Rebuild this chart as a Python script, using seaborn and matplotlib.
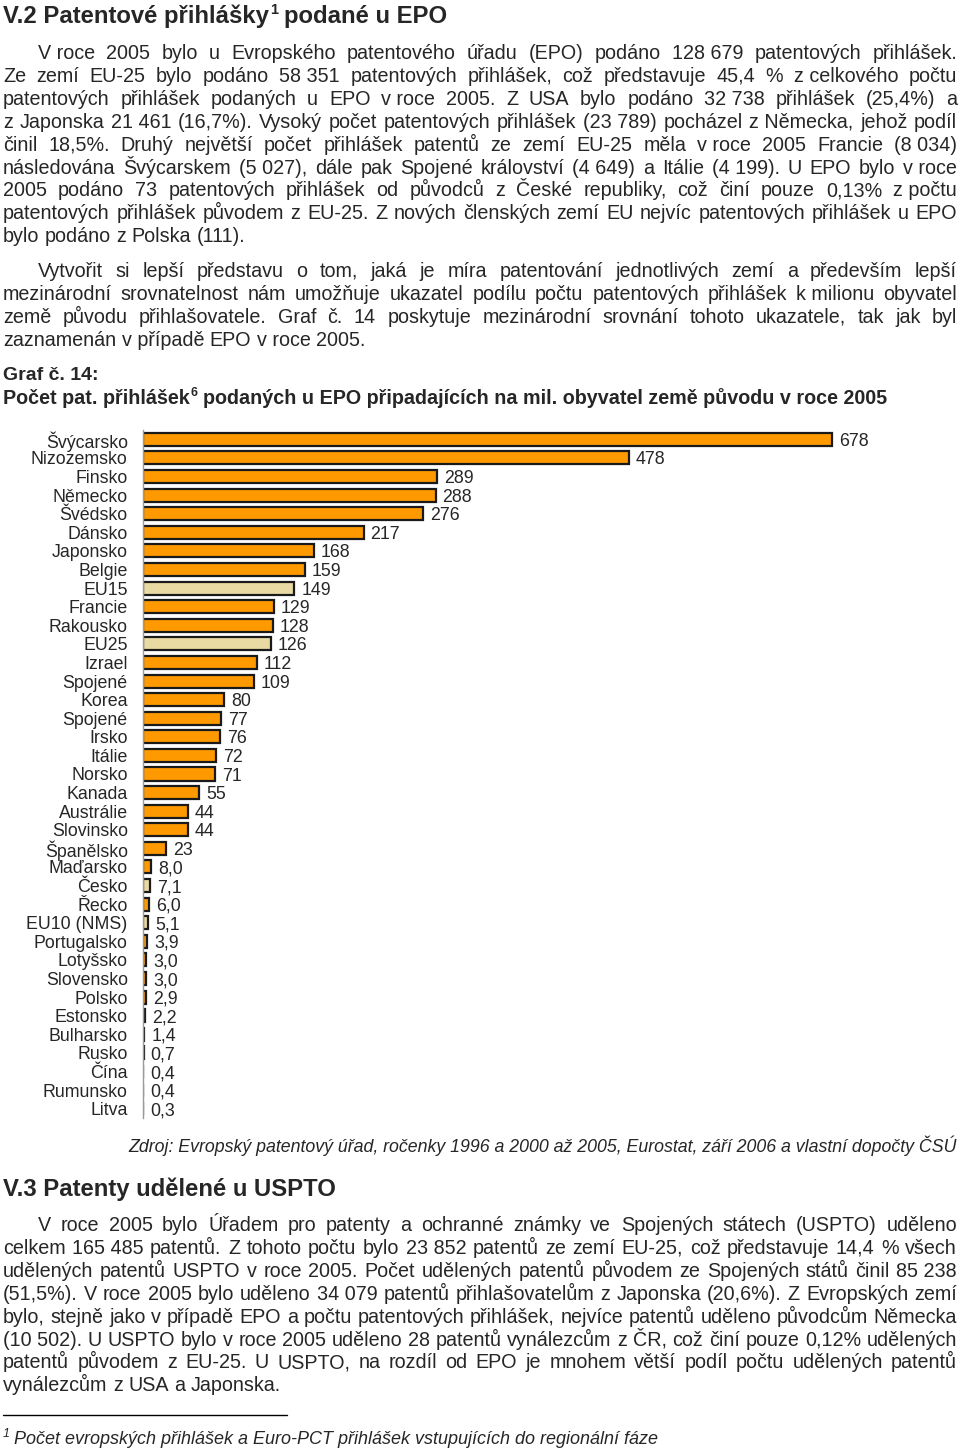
import matplotlib.pyplot as plt
from matplotlib.lines import Line2D
import seaborn as sns
import pandas as pd

W, H = 960, 1448
NB = '\u00a0'

# chart data
countries = ['Švýcarsko', 'Nizozemsko', 'Finsko', 'Německo', 'Švédsko', 'Dánsko',
             'Japonsko', 'Belgie', 'EU15', 'Francie', 'Rakousko', 'EU25', 'Izrael',
             'Spojené státy', 'Korea', 'Spojené království', 'Irsko', 'Itálie',
             'Norsko', 'Kanada', 'Austrálie', 'Slovinsko', 'Španělsko', 'Maďarsko',
             'Česko', 'Řecko', 'EU10 (NMS)', 'Portugalsko', 'Lotyšsko', 'Slovensko',
             'Polsko', 'Estonsko', 'Bulharsko', 'Rusko', 'Čína', 'Rumunsko', 'Litva']
tick_names = [c.split(' ')[0] if c.startswith('Spojené') else c for c in countries]
values = [678, 478, 289, 288, 276, 217, 168, 159, 149, 129, 128, 126, 112, 109,
          80, 77, 76, 72, 71, 55, 44, 44, 23, 8.0, 7.1, 6.0, 5.1, 3.9, 3.0, 3.0,
          2.9, 2.2, 1.4, 0.7, 0.4, 0.4, 0.3]
value_labels = ['678', '478', '289', '288', '276', '217', '168', '159', '149', '129',
                '128', '126', '112', '109', '80', '77', '76', '72', '71', '55', '44',
                '44', '23', '8,0', '7,1', '6,0', '5,1', '3,9', '3,0', '3,0', '2,9',
                '2,2', '1,4', '0,7', '0,4', '0,4', '0,3']
highlight = ['EU15', 'EU25', 'Česko', 'EU10 (NMS)']

# page text
para1 = [
    'V' + NB + 'roce 2005 bylo u Evropského patentového úřadu (EPO) podáno 128' + NB + '679 patentových přihlášek.',
    'Ze zemí EU-25 bylo podáno 58' + NB + '351 patentových přihlášek, což představuje 45,4 % z' + NB + 'celkového počtu',
    'patentových přihlášek podaných u EPO v' + NB + 'roce 2005. Z USA bylo podáno 32' + NB + '738 přihlášek (25,4%) a',
    'z Japonska 21' + NB + '461 (16,7%). Vysoký počet patentových přihlášek (23' + NB + '789) pocházel z' + NB + 'Německa, jehož podíl',
    'činil 18,5%. Druhý největší počet přihlášek patentů ze zemí EU-25 měla v' + NB + 'roce 2005 Francie (8' + NB + '034)',
    'následována Švýcarskem (5' + NB + '027), dále pak Spojené království (4' + NB + '649) a Itálie (4' + NB + '199). U EPO bylo v' + NB + 'roce',
    '2005 podáno 73 patentových přihlášek od původců z České republiky, což činí pouze 0,13% z' + NB + 'počtu',
    'patentových přihlášek původem z EU-25. Z nových členských zemí EU nejvíc patentových přihlášek u EPO',
    'bylo podáno z Polska (111).',
]
para2 = [
    'Vytvořit si lepší představu o tom, jaká je míra patentování jednotlivých zemí a především lepší',
    'mezinárodní srovnatelnost nám umožňuje ukazatel podílu počtu patentových přihlášek k' + NB + 'milionu obyvatel',
    'země původu přihlašovatele. Graf č. 14 poskytuje mezinárodní srovnání tohoto ukazatele, tak jak byl',
    'zaznamenán v' + NB + 'případě EPO v' + NB + 'roce 2005.',
]
para3 = [
    'V roce 2005 bylo Úřadem pro patenty a ochranné známky ve Spojených státech (USPTO) uděleno',
    'celkem 165' + NB + '485 patentů. Z tohoto počtu bylo 23' + NB + '852 patentů ze zemí EU-25, což představuje 14,4 % všech',
    'udělených patentů USPTO v roce 2005. Počet udělených patentů původem ze Spojených států činil 85' + NB + '238',
    '(51,5%). V roce 2005 bylo uděleno 34' + NB + '079 patentů přihlašovatelům z Japonska (20,6%). Z Evropských zemí',
    'bylo, stejně jako v případě EPO a počtu patentových přihlášek, nejvíce patentů uděleno původcům Německa',
    '(10' + NB + '502). U USPTO bylo v roce 2005 uděleno 28 patentů vynálezcům z ČR, což činí pouze 0,12% udělených',
    'patentů původem z EU-25. U USPTO, na rozdíl od EPO je mnohem větší podíl počtu udělených patentů',
    'vynálezcům z USA a Japonska.',
]

sns.set_theme(style='white')
plt.rcParams['font.family'] = ['Liberation Sans', 'DejaVu Sans']

fig = plt.figure(figsize=(W / 100, H / 100), dpi=100)
renderer = fig.canvas.get_renderer()


def fx(x):
    return x / W


def fy(y):
    return 1 - y / H


def width(t):
    return t.get_window_extent(renderer).width


def line(y, s, x0=3, x1=957, justify=True, size=14.2, **kw):
    words = s.split(' ')
    ts = [fig.text(fx(x0), fy(y), w, fontsize=size, va='baseline', **kw) for w in words]
    ws = [width(t) for t in ts]
    if justify and len(ts) > 1:
        gap = (x1 - x0 - sum(ws)) / (len(ts) - 1)
    else:
        gap = size * 100 / 72 * 0.278
    x = x0
    for t, w in zip(ts, ws):
        t.set_x(fx(x))
        x += w + gap


def runs(x, y, parts):
    # parts: (text, fontsize, dy, gap after, style)
    for s, size, dy, gap, kw in parts:
        t = fig.text(fx(x), fy(y + dy), s, fontsize=size, va='baseline', **kw)
        x += width(t) + gap


def paragraph(y0, lines, pitch=22.9):
    for i, s in enumerate(lines):
        last = i == len(lines) - 1
        line(y0 + i * pitch, s, x0=38 if i == 0 else 3, justify=not last)


bold = dict(weight='bold')
ital = dict(style='italic')

runs(3, 23, [('V.2 Patentové přihlášky', 17.2, 0, 1, bold),
             ('1', 10.5, -9, 6, bold),
             ('podané u EPO', 17.2, 0, 0, bold)])
paragraph(59, para1)
paragraph(277, para2)
runs(3, 380, [('Graf č. 14:', 14, 0, 0, bold)])
runs(3, 404, [('Počet pat. přihlášek', 14.2, 0, 1, bold),
              ('6', 9, -8, 5, bold),
              ('podaných u EPO připadajících na mil. obyvatel země původu v roce 2005', 14.2, 0, 0, bold)])

fig.text(fx(957), fy(1152), 'Zdroj: Evropský patentový úřad, ročenky 1996 a 2000 až 2005, '
         'Eurostat, září 2006 a vlastní dopočty ČSÚ', fontsize=12.8, style='italic',
         ha='right', va='baseline')
runs(3, 1196, [('V.3 Patenty udělené u USPTO', 17.2, 0, 0, bold)])
paragraph(1231, para3)

fig.add_artist(Line2D([fx(3), fx(287)], [fy(1415), fy(1415)], color='black', lw=1))
runs(3, 1444, [('1', 9, -7, 4, ital),
               ('Počet evropských přihlášek a Euro-PCT přihlášek vstupujících do regionální fáze', 13, 0, 0, ital)])

# bar chart
ax = fig.add_axes([fx(143), fy(1118), fx(950) - fx(143), (1118 - 430) / H])
df = pd.DataFrame({'country': countries, 'value': values})
sns.barplot(data=df, x='value', y='country', color='#FF9900', saturation=1,
            width=0.7, edgecolor='#1a1a1a', linewidth=1.6, ax=ax)
for p, c in zip(ax.patches, countries):
    if c in highlight:
        p.set_facecolor('#E9D9A3')

labels = ax.bar_label(ax.containers[0], labels=value_labels, padding=5, fontsize=12.8)
for t in labels:
    x_off, y_off = t.xyann
    t.xyann = (x_off, y_off - 1.5)
ax.set_xlim(0, 678 * (950 - 143) / (832 - 143))
ax.set_yticks(range(len(tick_names)))
ax.set_yticklabels(tick_names, fontsize=12.8)
ax.tick_params(axis='y', length=0, pad=11)
ax.set_xticks([])
ax.set_xlabel('')
ax.set_ylabel('')
sns.despine(ax=ax, top=True, right=True, bottom=True)
ax.spines['left'].set_color('#999999')
ax.spines['left'].set_linewidth(1)

fig.savefig('out.png', dpi=100)
